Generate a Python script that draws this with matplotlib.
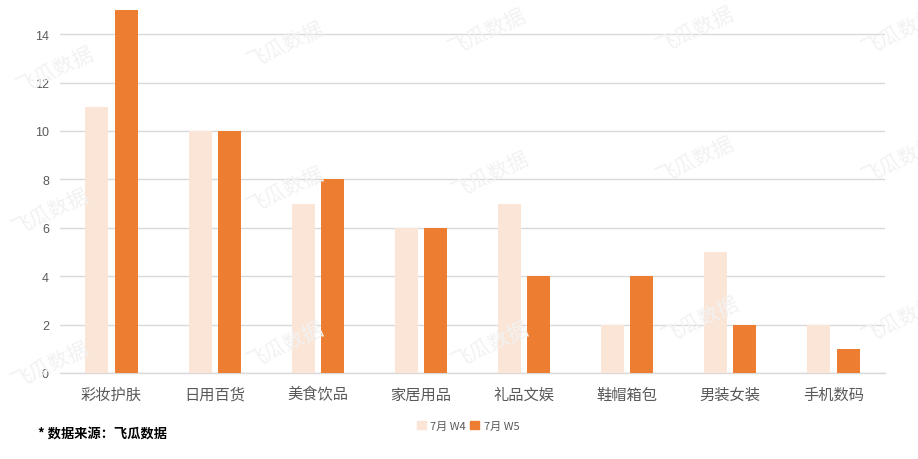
import numpy as np
import matplotlib
matplotlib.use("Agg")
import matplotlib.pyplot as plt
from matplotlib.patches import Patch

plt.rcParams['font.family'] = ['Noto Sans CJK SC', 'DejaVu Sans']

categories = ['彩妆护肤', '日用百货', '美食饮品', '家居用品', '礼品文娱', '鞋帽箱包', '男装女装', '手机数码']
w4 = [11, 10, 7, 6, 7, 2, 5, 2]
w5 = [15, 10, 8, 6, 4, 4, 2, 1]
series_names = ['7月 W4', '7月 W5']
yticks = [0, 2, 4, 6, 8, 10, 12, 14]

c_w4 = '#FBE5D6'
c_w5 = '#ED7D31'
grey = '#595959'

fig = plt.figure(figsize=(9.18, 4.6), dpi=100)

# watermark in the background (figure pixel coords)
marks = [(55, 70), (285, 45), (487, 32), (695, 30), (900, 32),
         (50, 212), (285, 190), (490, 175), (695, 160), (900, 160),
         (50, 365), (285, 345), (490, 345), (700, 320), (900, 320)]
for mx, my in marks:
    fig.text(mx / 918, 1 - my / 460, '飞瓜数据', fontsize=15, color='#f2f2f2',
             rotation=25, ha='center', va='center', zorder=0)

ax = fig.add_axes([60 / 918, 1 - 374 / 460, 825 / 918, 363 / 460])
ax.patch.set_alpha(0)

x = np.arange(len(categories))
bw = 0.223
ax.bar(x - 0.142, w4, bw, color=c_w4, zorder=3)
ax.bar(x + 0.142, w5, bw, color=c_w5, zorder=3)

ax.set_xlim(-0.5, len(categories) - 0.5)
ax.set_ylim(0, 15)
ax.set_yticks(yticks)
ax.yaxis.grid(True, color='#d9d9d9', linewidth=1)
ax.set_axisbelow(True)
for s in ['top', 'right', 'left']:
    ax.spines[s].set_visible(False)
ax.spines['bottom'].set_color('#d9d9d9')
ax.spines['bottom'].set_linewidth(1)

ax.set_xticks(x)
ax.set_xticklabels(categories, fontsize=11, color=grey)
ax.tick_params(axis='x', length=0, pad=9)
ax.tick_params(axis='y', length=0, pad=8, labelsize=9, labelcolor=grey)
for lab in ax.get_yticklabels():
    lab.set_family(['Liberation Sans', 'DejaVu Sans'])

handles = [Patch(color=c_w4), Patch(color=c_w5)]
fig.legend(handles, series_names, loc='center', bbox_to_anchor=(468 / 918, 1 - 427 / 460),
           ncol=2, frameon=False, fontsize=8, handlelength=0.8, handleheight=0.8,
           handletextpad=0.4, columnspacing=0.4, labelcolor=grey)

fig.text(38 / 918, 1 - 434 / 460, '* 数据来源：飞瓜数据', fontsize=9.5, fontweight='bold',
         color='black', ha='left', va='center')

fig.savefig('out.png', dpi=100)
